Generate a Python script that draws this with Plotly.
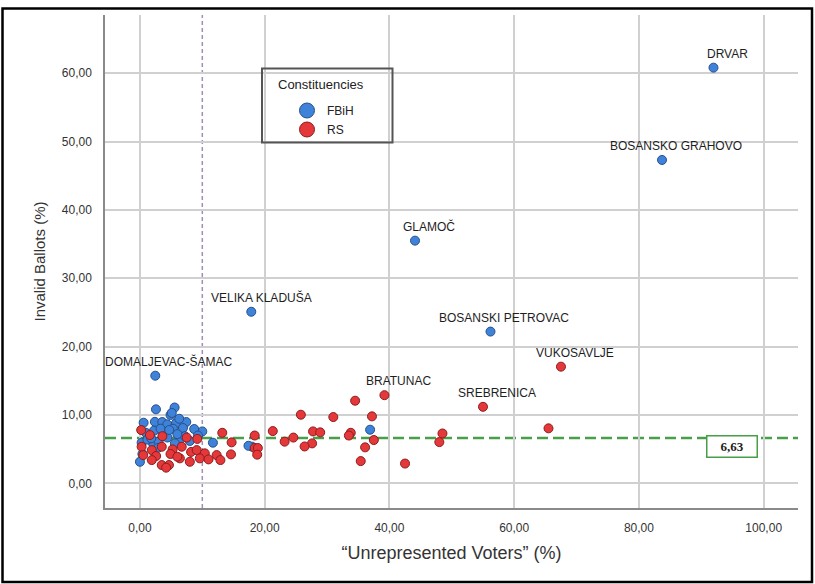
import plotly.graph_objects as go

# ---------------- data ----------------
fbih_x = [91.95, 83.7, 44.1, 56.2, 17.85, 2.46, 36.9, 17.96, 17.4, 11.7, 10.0, 8.7,
          2.57, 5.56, 4.9, 0.59, 2.4, 3.58, 4.38, 5.77, 7.43, 6.3, 5.1, 6.9, 5.3,
          2.25, 0.96, 3.7, 4.4, 6.4, 2.1, 0.27, 5.6, 0.0, 1.2, 3.0, 7.2, 8.0, 9.3,
          3.3, 4.7, 1.8, 0.4, 6.0, 2.9]
fbih_y = [60.8, 47.3, 35.5, 22.2, 25.1, 15.75, 7.85, 5.37, 5.5, 5.95, 7.6, 7.95,
          10.83, 11.1, 10.0, 8.87, 9.0, 8.97, 8.63, 8.78, 8.97, 9.45, 10.3, 8.1, 8.0,
          7.7, 7.4, 7.3, 6.7, 6.4, 5.85, 5.95, 5.85, 3.16, 6.4, 6.1, 6.9, 6.2, 7.0,
          8.0, 7.8, 6.6, 4.3, 7.2, 5.2]
fbih_named = ["DRVAR", "BOSANSKO GRAHOVO", "GLAMOČ", "BOSANSKI PETROVAC",
              "VELIKA KLADUŠA", "DOMALJEVAC-ŠAMAC"]

rs_x = [67.5, 55.0, 39.2, 65.5, 48.5, 48.0, 42.5, 34.5, 25.8, 31.0, 37.2, 21.3,
        27.75, 28.9, 33.8, 33.5, 18.4, 24.6, 23.2, 27.6, 26.4, 37.5, 36.1, 35.4,
        18.4, 18.9, 18.8, 13.2, 14.7, 14.6, 0.2, 1.6, 3.6, 7.5, 0.27, 1.9, 3.5,
        5.24, 6.7, 8.2, 9.1, 0.53, 2.6, 6.4, 4.9, 10.4, 12.3, 9.6, 8.0, 11.0, 1.9,
        3.5, 4.65, 12.9, 4.2, 6.0, 9.2]
rs_y = [17.07, 11.2, 12.9, 8.05, 7.3, 6.04, 2.9, 12.09, 10.04, 9.70, 9.80, 7.65,
        7.6, 7.46, 7.4, 7.0, 7.0, 6.7, 6.1, 5.85, 5.4, 6.34, 5.27, 3.26, 5.17,
        5.17, 4.2, 7.4, 6.0, 4.24, 7.8, 7.07, 6.9, 6.7, 5.36, 4.87, 5.36, 4.97,
        5.36, 4.6, 4.87, 4.14, 4.0, 3.66, 4.3, 4.39, 4.14, 3.66, 3.16, 3.51, 3.41,
        2.68, 2.68, 3.41, 2.3, 3.9, 6.5]
rs_named = ["VUKOSAVLJE", "SREBRENICA", "BRATUNAC"]

threshold_x = 10
mean_y = 6.63
mean_label = "6,63"

x_tickvals = [0, 20, 40, 60, 80, 100]
x_ticktext = ["0,00", "20,00", "40,00", "60,00", "80,00", "100,00"]
y_tickvals = [0, 10, 20, 30, 40, 50, 60]
y_ticktext = ["0,00", "10,00", "20,00", "30,00", "40,00", "50,00", "60,00"]

# ---------------- style ----------------
W, H = 815, 584
ML, MR, MT, MB = 105, 17, 15, 76
PW, PH = W - ML - MR, H - MT - MB

def px(xp):
    return (xp - ML) / PW

def py(yp):
    return (H - MB - yp) / PH

BLUE, BLUE_EDGE = "#3f82d9", "#27508a"
RED, RED_EDGE = "#e5383b", "#8e1c1c"
GREEN = "#47a047"
label_shift = {"VELIKA KLADUŠA": 10, "DOMALJEVAC-ŠAMAC": 13}

fbih_labels = fbih_named + [""] * (len(fbih_x) - len(fbih_named))
rs_labels = rs_named + [""] * (len(rs_x) - len(rs_named))

fig = go.Figure()
fig.add_trace(go.Scatter(x=fbih_x, y=fbih_y, mode="markers", name="FBiH",
                         showlegend=False, text=fbih_labels,
                         marker=dict(size=9, color=BLUE, line=dict(color=BLUE_EDGE, width=1))))
fig.add_trace(go.Scatter(x=rs_x, y=rs_y, mode="markers", name="RS",
                         showlegend=False, text=rs_labels,
                         marker=dict(size=9, color=RED, line=dict(color=RED_EDGE, width=1))))
# legend entries
fig.add_trace(go.Scatter(x=[None], y=[None], mode="markers", name="FBiH",
                         marker=dict(size=15, color=BLUE, line=dict(color=BLUE_EDGE, width=1))))
fig.add_trace(go.Scatter(x=[None], y=[None], mode="markers", name="RS",
                         marker=dict(size=15, color=RED, line=dict(color=RED_EDGE, width=1))))

annotations = []
for xs, ys, labs in ((fbih_x, fbih_y, fbih_labels), (rs_x, rs_y, rs_labels)):
    for xv, yv, lab in zip(xs, ys, labs):
        if lab:
            annotations.append(dict(x=xv, y=yv, text=lab, showarrow=False,
                                    xanchor="center", yanchor="middle",
                                    xshift=label_shift.get(lab, 14), yshift=14,
                                    font=dict(family="Liberation Sans", size=12, color="#1e1e1e")))

annotations.append(dict(xref="paper", yref="y", x=px(732), y=mean_y, yshift=-8,
                        xanchor="center", yanchor="middle",
                        text="<b>" + mean_label + "</b>", showarrow=False,
                        width=49, height=20, bgcolor="white", bordercolor=GREEN,
                        borderwidth=1.5, borderpad=0,
                        font=dict(family="Liberation Serif", size=13, color="#222")))
annotations.append(dict(xref="paper", yref="paper", x=px(321), y=py(85),
                        xanchor="center", yanchor="middle",
                        text="Constituencies", showarrow=False,
                        font=dict(family="Liberation Sans", size=13, color="#222")))

shapes = [
    dict(type="line", xref="x", yref="paper", x0=threshold_x, x1=threshold_x, y0=0, y1=1,
         line=dict(color="#a18db5", width=1.5, dash="4px,3px"), layer="between"),
    dict(type="line", xref="paper", yref="y", x0=0, x1=1, y0=mean_y, y1=mean_y,
         line=dict(color=GREEN, width=2.5, dash="11px,5px"), layer="between"),
    dict(type="rect", xref="paper", yref="paper", x0=px(262), x1=px(392.5),
         y0=py(142.5), y1=py(68.5), line=dict(color="#555", width=2)),
    dict(type="rect", xref="paper", yref="paper", x0=px(2.5), x1=px(812),
         y0=py(582), y1=py(8.5), line=dict(color="#000", width=2.5)),
]

fig.update_layout(
    width=W, height=H, autosize=False,
    margin=dict(l=ML, r=MR, t=MT, b=MB),
    paper_bgcolor="white", plot_bgcolor="white",
    font=dict(family="Liberation Sans", color="#333"),
    showlegend=True,
    legend=dict(x=px(287), y=py(96), xanchor="left", yanchor="top",
                bgcolor="rgba(0,0,0,0)", borderwidth=0, itemwidth=30,
                font=dict(family="Liberation Sans", size=12, color="#222"),
                tracegroupgap=0),
    annotations=annotations,
    shapes=shapes,
)
fig.update_xaxes(range=[-5.6, 105.5], tickvals=x_tickvals, ticktext=x_ticktext,
                 showgrid=True, gridcolor="#d0d0d0", gridwidth=1.5, zeroline=False,
                 showline=True, linecolor="#8a8a8a", linewidth=1.5, ticks="",
                 ticklabelstandoff=8, tickfont=dict(size=12, color="#333"),
                 title=dict(text="“Unrepresented Voters” (%)", standoff=12,
                            font=dict(size=18, color="#333")))
fig.update_yaxes(range=[-3.6, 68.5], tickvals=y_tickvals, ticktext=y_ticktext,
                 showgrid=True, gridcolor="#d0d0d0", gridwidth=1.5, zeroline=False,
                 showline=True, linecolor="#8a8a8a", linewidth=1.5, ticks="",
                 ticklabelstandoff=9, tickfont=dict(size=12, color="#333"),
                 title=dict(text="Invalid Ballots (%)", standoff=13,
                            font=dict(size=15, color="#333")))

fig.write_html("out.html", config={"displayModeBar": False},
               post_script="document.body.style.margin='0px';")
